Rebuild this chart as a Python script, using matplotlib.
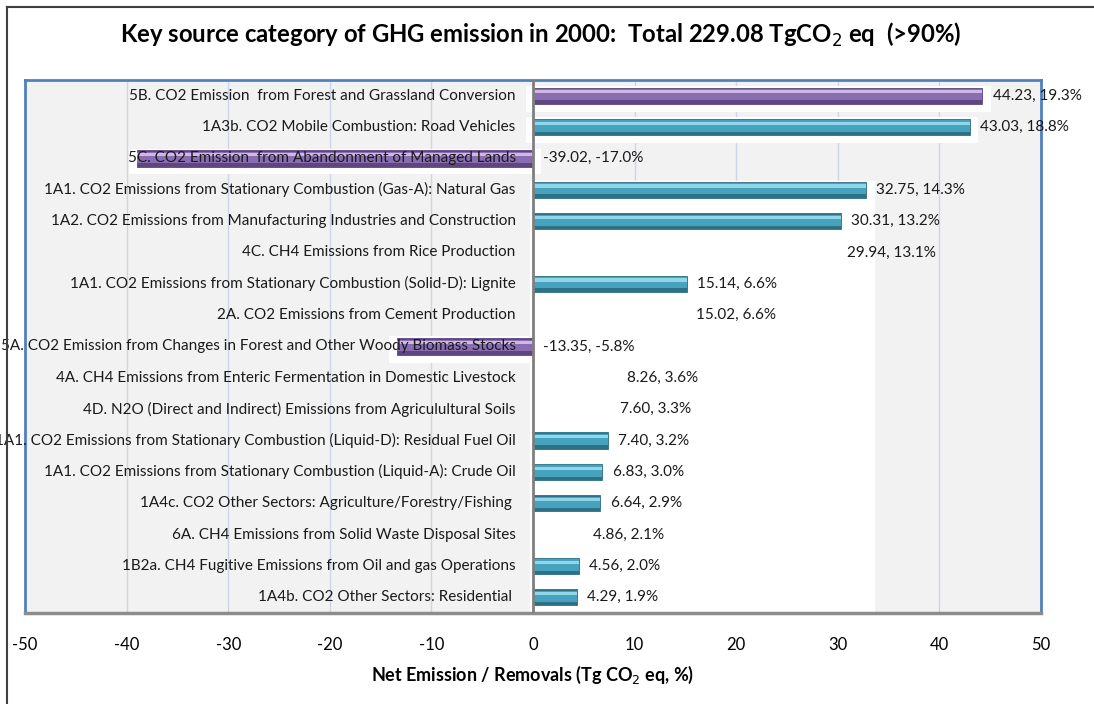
import matplotlib.pyplot as plt
from matplotlib.patches import Rectangle
from matplotlib.lines import Line2D

plt.rcParams['font.family'] = ['Lato', 'DejaVu Sans']

categories = [
    "5B. CO2 Emission  from Forest and Grassland Conversion",
    "1A3b. CO2 Mobile Combustion: Road Vehicles",
    "5C. CO2 Emission  from Abandonment of Managed Lands",
    "1A1. CO2 Emissions from Stationary Combustion (Gas-A): Natural Gas",
    "1A2. CO2 Emissions from Manufacturing Industries and Construction",
    "4C. CH4 Emissions from Rice Production",
    "1A1. CO2 Emissions from Stationary Combustion (Solid-D): Lignite",
    "2A. CO2 Emissions from Cement Production",
    "5A. CO2 Emission from Changes in Forest and Other Woody Biomass Stocks",
    "4A. CH4 Emissions from Enteric Fermentation in Domestic Livestock",
    "4D. N2O (Direct and Indirect) Emissions from Agriculultural Soils",
    "1A1. CO2 Emissions from Stationary Combustion (Liquid-D): Residual Fuel Oil",
    "1A1. CO2 Emissions from Stationary Combustion (Liquid-A): Crude Oil",
    "1A4c. CO2 Other Sectors: Agriculture/Forestry/Fishing ",
    "6A. CH4 Emissions from Solid Waste Disposal Sites",
    "1B2a. CH4 Fugitive Emissions from Oil and gas Operations",
    "1A4b. CO2 Other Sectors: Residential ",
]
values = [44.23, 43.03, -39.02, 32.75, 30.31, 29.94, 15.14, 15.02, -13.35,
          8.26, 7.60, 7.40, 6.83, 6.64, 4.86, 4.56, 4.29]
shares = [19.3, 18.8, -17.0, 14.3, 13.2, 13.1, 6.6, 6.6, -5.8,
          3.6, 3.3, 3.2, 3.0, 2.9, 2.1, 2.0, 1.9]
sectors = ['lulucf', 'energy', 'lulucf', 'energy', 'energy', 'other', 'energy',
           'other', 'lulucf', 'other', 'other', 'energy', 'energy', 'energy',
           'other', 'energy', 'energy']
xticks = [-50, -40, -30, -20, -10, 0, 10, 20, 30, 40, 50]

# (dark, mid, light) shades for the cylinder look
shades = {
    'energy': ('#2C7186', '#47A3BD', '#8FD6EA'),
    'lulucf': ('#5E4680', '#8A6DB0', '#CDB9E6'),
    'other': ('white', 'white', 'white'),
}

fig = plt.figure(figsize=(10.94, 7.04), dpi=100)
ax = fig.add_axes([25 / 1094, 1 - 613 / 704, 1016 / 1094, 533 / 704])
ax.set_facecolor('#F2F2F2')

n = len(values)
ys = list(range(n))
ax.set_xlim(-50, 50)
ax.set_ylim(n - 0.5, -0.5)

# light vertical gridlines
for t in xticks:
    if t != 0:
        ax.axvline(t, color='#CDD6E4', lw=1, zorder=0.5)

# white glow behind the bars
for y, v in zip(ys[:3], values[:3]):
    ax.barh(y + 0.1, abs(v) + 1.5, left=min(v, 0) - 0.7, height=0.82,
            color='white', zorder=1)
ax.barh(8 + 0.1, abs(values[8]) + 1.5, left=min(values[8], 0) - 0.8,
        height=0.85, color='white', zorder=1)
lower_max = max(values[3:])
ax.add_patch(Rectangle((-0.3, 3 - 0.28), lower_max + 1.1, n - 0.5 - 2.72,
                       color='white', zorder=1))

# bars in three layered shades
for y, v, s in zip(ys, values, sectors):
    dark, mid, light = shades[s]
    ax.barh(y, v, height=0.52, color=dark, edgecolor=dark, lw=0.6, zorder=3)
    ax.barh(y - 0.03, v, height=0.36, color=mid, lw=0, zorder=3.1)
    ax.barh(y - 0.12, v, height=0.1, color=light, lw=0, zorder=3.2)

ax.axvline(0, color='#7F7F7F', lw=2, zorder=3.5)

# category names and value labels
for y, name, v, p in zip(ys, categories, values, shares):
    ax.text(-1.7, y, name, ha='right', va='center', fontsize=11,
            color='#1A1A1A', zorder=5, clip_on=False)
    ax.text(max(v, 0) + 1.0, y, f"{v:.2f}, {p:.1f}%", ha='left',
            va='center', fontsize=11, color='#1A1A1A', zorder=5,
            clip_on=False)

ax.set_yticks([])
ax.set_xticks(xticks)
ax.set_xticklabels([str(t) for t in xticks], fontsize=12)
ax.tick_params(axis='x', length=0, pad=17)
for side in ['left', 'right', 'top']:
    ax.spines[side].set_color('#4F81BD')
    ax.spines[side].set_linewidth(2)
ax.spines['bottom'].set_color('#8C8C8C')
ax.spines['bottom'].set_linewidth(2.5)

ax.set_xlabel('Net Emission / Removals (Tg CO$_2$ eq, %)', fontsize=13,
              fontweight='bold', labelpad=8)

fig.text(0.494, 1 - 35 / 704,
         'Key source category of GHG emission in 2000:  Total 229.08 TgCO$_2$ eq  (>90%)',
         ha='center', va='center', fontsize=17.2, fontweight='bold')

# outer frame (left and top edges)
fig.add_artist(Line2D([6.5 / 1094, 6.5 / 1094], [0, 1 - 6.5 / 704],
                      color='#404040', lw=1.5))
fig.add_artist(Line2D([6.5 / 1094, 1], [1 - 6.5 / 704, 1 - 6.5 / 704],
                      color='#404040', lw=1.5))

fig.savefig('out.png', dpi=100)
